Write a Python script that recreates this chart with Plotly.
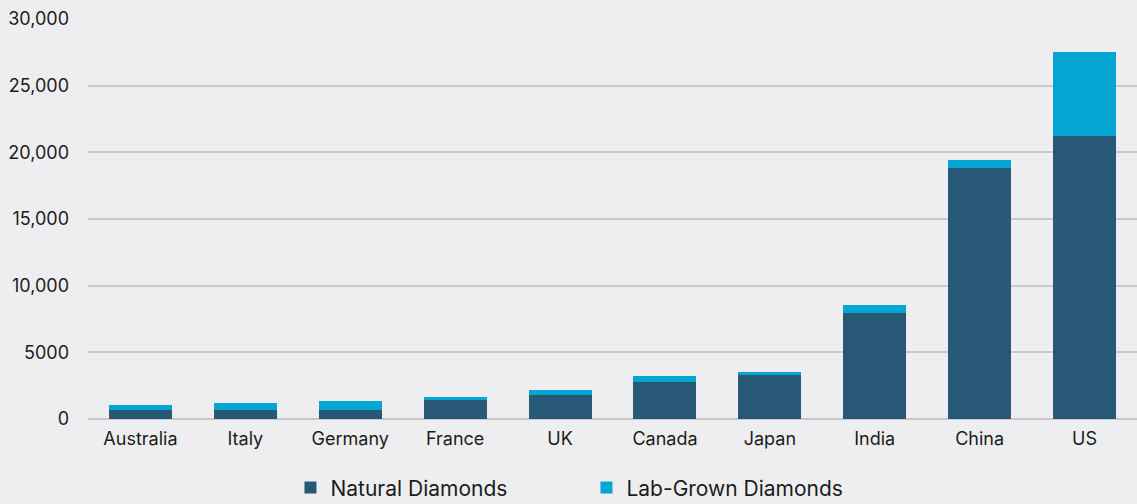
import plotly.graph_objects as go

countries = ["Australia", "Italy", "Germany", "France", "UK", "Canada", "Japan", "India", "China", "US"]
natural = [680, 700, 700, 1430, 1800, 2780, 3300, 7950, 18850, 21230]
lab_grown = [370, 500, 650, 220, 370, 450, 220, 600, 580, 6300]
y_ticks = [0, 5000, 10000, 15000, 20000, 25000, 30000]
y_tick_text = ["0", "5000", "10,000", "15,000", "20,000", "25,000", "30,000"]

fig = go.Figure()
fig.add_trace(go.Bar(x=countries, y=natural, name="Natural Diamonds",
                     marker=dict(color="#275876", line=dict(width=0))))
fig.add_trace(go.Bar(x=countries, y=lab_grown, name="Lab-Grown Diamonds",
                     marker=dict(color="#03A6D3", line=dict(width=0))))

fig.update_layout(
    barmode="stack",
    bargap=0.4,
    width=1137, height=504,
    margin=dict(l=88, r=0, t=19, b=85, autoexpand=False),
    paper_bgcolor="#EEEEF1",
    plot_bgcolor="rgba(0,0,0,0)",
    font=dict(family="Inter, Roboto, sans-serif", color="#1c1c1c", size=18),
    legend=dict(orientation="h", x=0.193, xanchor="left", y=-0.172, yanchor="middle",
                font=dict(size=21), traceorder="normal",
                entrywidth=251, entrywidthmode="pixels", itemwidth=30),
    xaxis=dict(range=[-0.5, 9.5], showgrid=False, showline=False, ticks="",
               tickfont=dict(size=18), ticklabelstandoff=7),
    yaxis=dict(range=[0, 30000], tickvals=y_ticks, ticktext=y_tick_text,
               showgrid=True, gridcolor="#C9C9CD", gridwidth=1.5,
               zeroline=True, zerolinecolor="#C9C9CD", zerolinewidth=1.5,
               showline=False, ticks="", ticklabelstandoff=18,
               tickfont=dict(size=18)),
)

fig.write_html("out.html")
